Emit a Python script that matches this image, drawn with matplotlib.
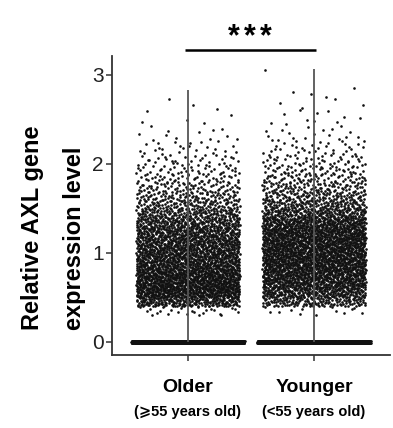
import numpy as np
import matplotlib
matplotlib.use("Agg")
import matplotlib.pyplot as plt

# ---- data ----
groups = ["Older", "Younger"]
group_sub = ["(\u2a7e55 years old)", "(<55 years old)"]
bin_lo = [round(0.3 + 0.1 * i, 2) for i in range(28)]  # 0.1-wide expression bins
older_counts = [25, 200, 310, 320, 300, 270, 255, 250, 235, 215, 185, 145, 110, 85,
                62, 48, 35, 25, 17, 11, 7, 4, 3, 2, 2, 0, 0, 0]
younger_counts = [12, 145, 215, 255, 280, 295, 300, 300, 295, 280, 250, 185, 140, 108,
                  82, 62, 46, 34, 24, 16, 10, 7, 5, 4, 3, 2, 0, 1]
zero_counts = [1000, 1000]
max_values = [2.83, 3.06]
yticks = [0, 1, 2, 3]
sig_label = "***"

FAM = ["Liberation Sans", "DejaVu Sans"]

# ---- figure ----
W, H = 393, 428
fig = plt.figure(figsize=(W / 100, H / 100), dpi=100)
ax = fig.add_axes([112 / W, 1 - 355 / H, (390 - 112) / W, (355 - 56) / H])


def halton(i, b):
    f, r = 1.0, 0.0
    while i > 0:
        f /= b
        r += f * (i % b)
        i //= b
    return r


def place(counts, zeros, center, half, zhalf, offset):
    # y values spread evenly through each 0.1 bin (inverse of binned CDF),
    # x jitter from a deterministic Halton sequence
    edges = np.array(bin_lo + [bin_lo[-1] + 0.1])
    cum = np.concatenate([[0], np.cumsum(counts)]).astype(float)
    n = int(cum[-1])
    xs, ys = [], []
    for k in range(n):
        u = halton(k + offset, 2)
        v = halton(k + offset, 3)
        ys.append(np.interp(v * n, cum, edges))
        xs.append(center + (2 * u - 1) * half)
    for k in range(zeros):
        u = halton(k + offset + 7, 2)
        v = halton(k + offset + 7, 5)
        xs.append(center + (2 * u - 1) * zhalf)
        ys.append((2 * v - 1) * 0.016)
    return np.array(xs), np.array(ys)


for i, (cnts, z) in enumerate(zip([older_counts, younger_counts], zero_counts)):
    c = i + 1
    x, y = place(cnts, z, c, 0.41, 0.45, 17 + 5000 * i)
    ax.scatter(x, y, s=3.6, color="#111111", linewidths=0, zorder=2)
    ax.plot([c, c], [0, max_values[i]], color="#555555", lw=1.3, zorder=3,
            solid_capstyle="butt")

ax.set_xlim(0.397, 2.603)
ax.set_ylim(-0.146, 3.21)
ax.set_yticks(yticks)
ax.set_yticklabels([str(t) for t in yticks], fontsize=15, color="#222222",
                   family=FAM)
ax.set_xticks([1, 2])
ax.set_xticklabels([])
for s in ["top", "right"]:
    ax.spines[s].set_visible(False)
for s in ["left", "bottom"]:
    ax.spines[s].set_linewidth(1.3)
    ax.spines[s].set_color("#333333")
ax.tick_params(axis="both", length=4, width=1.1, color="#333333", pad=2)

# x category labels
for i, (name, sub) in enumerate(zip(groups, group_sub)):
    xf = (112 + (i + 1 - 0.397) / (2.603 - 0.397) * (390 - 112)) / W
    fig.text(xf, 1 - 387 / H, name, ha="center", va="center", fontsize=14,
             fontweight="bold", family=FAM)
    fig.text(xf, 1 - 412 / H, sub, ha="center", va="center", fontsize=10.5,
             fontweight="bold", family=FAM)

# y label (two lines)
fig.text(33 / W, 1 - 330 / H, "Relative AXL gene", rotation=90, ha="center",
         va="bottom", fontsize=17, fontweight="bold", family=FAM)
fig.text(74 / W, 1 - 330 / H, "expression level", rotation=90, ha="center",
         va="bottom", fontsize=17, fontweight="bold", family=FAM)

# significance bar
ax.plot([0.976, 2.016], [3.28, 3.28], color="black", lw=1.8, clip_on=False,
        solid_capstyle="butt")
for j, ch in enumerate(sig_label):
    xpx = 234 + 16 * j
    fig.text(xpx / W, 1 - 37 / H, ch, ha="center", va="center", fontsize=22,
             fontweight="bold", family=FAM)

fig.savefig("out.png", dpi=100)
